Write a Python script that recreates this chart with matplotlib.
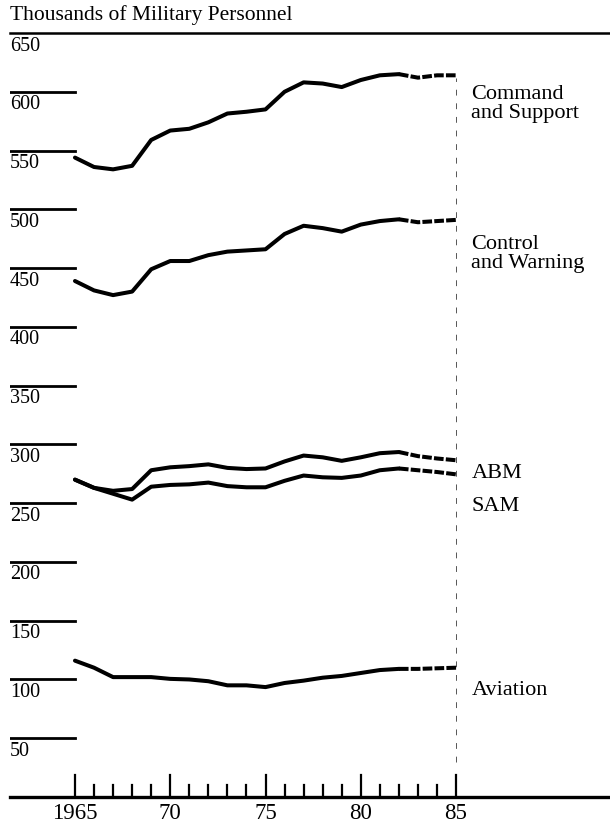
import matplotlib
matplotlib.use("Agg")
import matplotlib.pyplot as plt

years = list(range(1965, 1986))

command_support = [544, 536, 534, 537, 559, 567, 568.5, 574, 581.5, 583, 585,
                   600, 608, 607, 604, 610, 614, 615, 612, 614, 614]
control_warning = [439, 431, 427, 430, 449, 456, 456, 461, 464, 465, 466,
                   479, 486, 484, 481, 487, 490, 491.5, 489, 490, 491]
abm = [270, 263, 260.5, 262, 278, 280.5, 281.5, 283, 280, 279, 279.5,
       285.5, 290.5, 289, 286, 289, 292.5, 293.5, 290, 288, 286.5]
sam = [270, 263, 258, 253, 264, 265.5, 266, 267.5, 264.5, 263.5, 263.5,
       269, 273.5, 272, 271.5, 273.5, 278, 279.5, 278, 276.5, 274.5]
aviation = [116, 110, 102, 102, 102, 100.5, 100, 98.5, 95, 95, 93.5,
            97, 99, 101.5, 103, 105.5, 108, 109, 109, 109.5, 110]

y_ticks = [50, 100, 150, 200, 250, 300, 350, 400, 450, 500, 550, 600, 650]
x_major = [1965, 1970, 1975, 1980, 1985]
x_labels = ["1965", "70", "75", "80", "85"]

# series label, label y position (data units)
labels = [
    ("Command\nand Support", 590),
    ("Control\nand Warning", 462),
    ("ABM", 275),
    ("SAM", 247),
    ("Aviation", 91),
]

plt.rcParams["font.family"] = ["Liberation Serif", "DejaVu Serif"]

fig = plt.figure(figsize=(6.1, 8.25), dpi=100)
ax = fig.add_axes([10 / 610, 28 / 825, 600 / 610, 764 / 825])
ax.set_xlim(1961.59, 1993.08)
ax.set_ylim(0, 650)
ax.axis("off")

split = years.index(1982)
for series in [command_support, control_warning, abm, sam, aviation]:
    ax.plot(years[:split + 1], series[:split + 1], color="black", lw=2.9,
            solid_capstyle="round", solid_joinstyle="round")
    ax.plot(years[split:], series[split:], color="black", lw=2.9,
            linestyle=(0, (2.4, 0.55)))

x0 = ax.get_xlim()[0]
for v in y_ticks[:-1]:
    ax.plot([x0, 1965], [v, v], color="black", lw=2.0)
ax.plot([x0, ax.get_xlim()[1]], [650, 650], color="black", lw=1.8,
        clip_on=False)
for v in y_ticks:
    ax.text(x0, v - 3, str(v), ha="left", va="top", fontsize=14.5)

# bottom axis with year ticks
ax.plot([x0, ax.get_xlim()[1]], [0, 0], color="black", lw=2.4,
        clip_on=False)
for yr in years:
    h = 19 if yr in x_major else 10
    ax.plot([yr, yr], [0, h], color="black", lw=1.6)
for yr, lab in zip(x_major, x_labels):
    ax.text(yr, -5, lab, ha="center", va="top", fontsize=16.5)

# projection marker
ax.plot([1985, 1985], [30, 612], color="#555555", lw=0.7,
        linestyle=(0, (6, 8)))

for text, y in labels:
    ax.text(1985.8, y, text, ha="left", va="center", fontsize=16,
            linespacing=1.0)

fig.text(10 / 610, 1 - 15 / 825, "Thousands of Military Personnel",
         ha="left", va="center", fontsize=15.5)

fig.savefig("out.png", dpi=100)
